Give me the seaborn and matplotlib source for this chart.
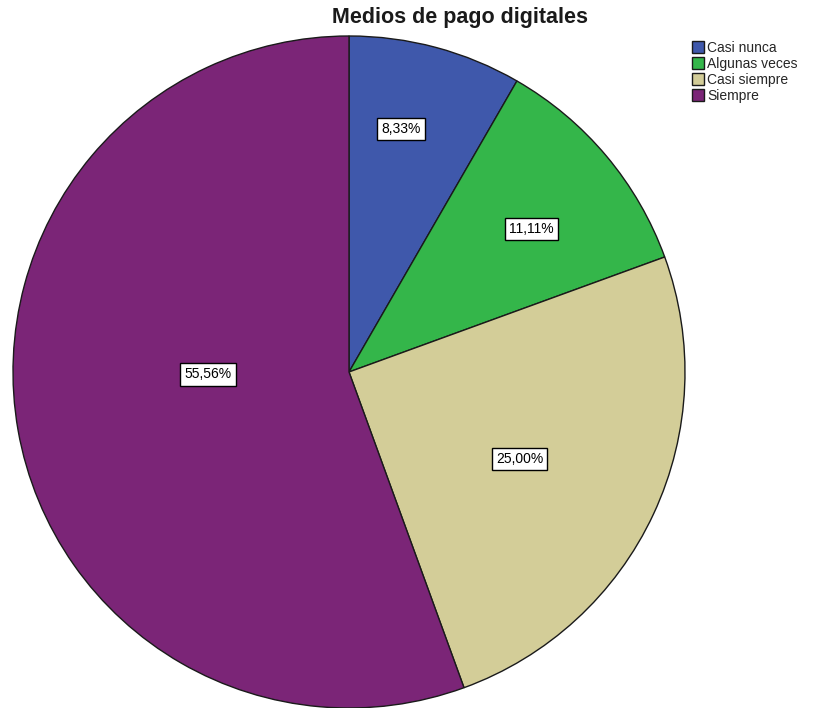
import matplotlib
matplotlib.use("Agg")
import matplotlib.pyplot as plt
import seaborn as sns
import numpy as np

sns.set_theme(style="white")
plt.rcParams["font.family"] = ["Liberation Sans", "DejaVu Sans"]

categories = ["Casi nunca", "Algunas veces", "Casi siempre", "Siempre"]
percentages = [8.33, 11.11, 25.00, 55.56]
colors = ["#3f58ab", "#34b64a", "#d3cd98", "#7b2577"]

# label placement inside each wedge (fraction of radius, angle in degrees)
label_radius = [0.74, 0.69, 0.57, 0.42]
label_angle = [78, 38, -27, 181]

fig = plt.figure(figsize=(8.18, 7.08), dpi=100)
fig.patch.set_facecolor("white")
ax = fig.add_axes([13 / 818, 0.0, 672 / 818, 672 / 708])

wedges, texts, autotexts = ax.pie(
    percentages,
    colors=colors,
    startangle=90,
    counterclock=False,
    radius=1.0,
    autopct=lambda p: f"{p:.2f}%".replace(".", ","),
    wedgeprops=dict(edgecolor="#1a1a1a", linewidth=1.0),
    textprops=dict(fontsize=10),
)
for w in wedges:
    w.set_clip_on(False)

for t, r, a in zip(autotexts, label_radius, label_angle):
    rad = np.deg2rad(a)
    t.set_position((r * np.cos(rad), r * np.sin(rad)))
    t.set_color("black")
    t.set_fontsize(10)
    t.set_bbox(dict(boxstyle="square,pad=0.3", facecolor="white",
                    edgecolor="black", linewidth=1.0))

ax.set_xlim(-1, 1)
ax.set_ylim(-1, 1)
ax.set_aspect("equal")
ax.axis("off")

fig.text(460 / 818, 1 - 18 / 708, "Medios de pago digitales",
         ha="center", va="center", fontsize=15.5, fontweight="bold",
         color="#1a1a1a")

leg = fig.legend(
    wedges, categories,
    loc="upper left",
    bbox_to_anchor=(686 / 818, 1 - 35 / 708),
    frameon=False,
    fontsize=10,
    handlelength=0.9,
    handleheight=0.9,
    handletextpad=0.2,
    labelspacing=0.15,
    borderaxespad=0.0,
)

fig.savefig("out.png", dpi=100, facecolor="white")
